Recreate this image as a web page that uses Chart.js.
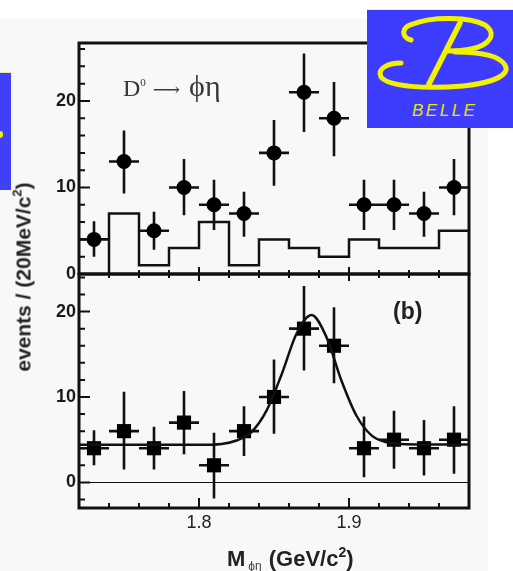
<!DOCTYPE html>
<html>
<head>
<meta charset="utf-8">
<script src="https://cdn.jsdelivr.net/npm/chart.js@4.4.1/dist/chart.umd.min.js"></script>
<style>
  body { margin: 0; width: 513px; height: 571px; background: #fff; position: relative; overflow: hidden;
         font-family: "Liberation Sans", Arial, sans-serif; }
  #slide { position: absolute; left: 0; top: 19px; width: 488px; height: 552px; background: #f8f8f8; }
  canvas { position: absolute; left: 0; top: 0; }
  .txt { position: absolute; white-space: nowrap; color: #222; }
  .txt sup, .txt sub { line-height: 0; }
  #decay { left: 123px; top: 74px; font: 24px/24px "Liberation Serif", "DejaVu Serif", serif; color: #383838; }
  #decay sup { font-size: 11px; vertical-align: 10px; }
  #decay .arrow { font-size: 19px; margin: 0 9px 0 7px; }
  #decay .greek { font-size: 30px; }
  #panelB { left: 393px; top: 300px; font: bold 23px/23px "Liberation Sans", Arial, sans-serif; }
  #xTitle { left: 227px; top: 548px; font: bold 22px/22px "Liberation Sans", Arial, sans-serif; }
  #xTitle sub { font-size: 12px; font-weight: normal; color: #444; vertical-align: -4px; margin: 0 7px 0 3px; }
  #xTitle sup { font-size: 14px; vertical-align: 9px; }
  #yTitle { left: 23px; top: 277px; font: bold 21px/21px "Liberation Sans", Arial, sans-serif;
            transform: translate(-50%, -50%) rotate(-90deg); }
  #yTitle sup { font-size: 13px; vertical-align: 9px; }
  #sideTab { position: absolute; left: 0; top: 72px; width: 11px; height: 117px; background: #4040f8;
             border-top: 1px solid #e8e8a0; }
  #sideTab i { position: absolute; left: 0; top: 58px; width: 3px; height: 7px; background: #f0f000; border-radius: 0 3px 3px 0; }
  #logo { position: absolute; left: 367px; top: 9px; }
</style>
</head>
<body>
<div id="slide"></div>
<div id="sideTab"><i></i></div>
<canvas id="topPanel" width="513" height="571"></canvas>
<canvas id="bottomPanel" width="513" height="571"></canvas>

<div class="txt" id="decay">D<sup>0</sup><span class="arrow">&#x27F6;</span><span class="greek">&#x03D5;&#x03B7;</span></div>
<div class="txt" id="panelB">(b)</div>
<div class="txt" id="xTitle">M<sub>&#x03D5;&#x03B7;</sub>(GeV/c<sup>2</sup>)</div>
<div class="txt" id="yTitle">events / (20MeV/c<sup>2</sup>)</div>

<svg id="logo" width="146" height="119" viewBox="0 0 146 119">
  <rect x="0" y="0" width="146" height="119" fill="#3e3cfc"/>
  <line x1="0" y1="0.5" x2="146" y2="0.5" stroke="#f4f0b0" stroke-width="1"/>
  <g fill="none" stroke="#f2f200" stroke-width="5" stroke-linecap="round">
    <path d="M44 31 C34 28 34 18 46 15 C66 7 104 8 118 16 C130 24 124 36 104 40 C96 42 88 42 80 42"/>
    <path d="M34 54 C20 54 10 60 14 68 C22 78 60 80 96 77 C126 74 144 66 138 56 C132 46 112 43 88 43"/>
    <path d="M93 14 L62 75" stroke-width="5.5"/>
  </g>
  <text x="45" y="107" fill="#e6e600" font-family="Liberation Sans, Arial, sans-serif" font-style="italic"
        font-size="17" letter-spacing="2.5">BELLE</text>
</svg>

<script>
// 20 MeV bins of M(phi eta)
const binCenters = [1.73, 1.75, 1.77, 1.79, 1.81, 1.83, 1.85, 1.87, 1.89, 1.91, 1.93, 1.95, 1.97];
const binHalfWidth = 0.01;

// (a) signal region candidates, with the sideband histogram below them
const signalEvents = [4, 13, 5, 10, 8, 7, 14, 21, 18, 8, 8, 7, 10];
const signalErrUp = [2.1, 3.6, 2.2, 3.3, 2.9, 2.5, 3.8, 4.5, 4.2, 2.9, 2.9, 2.5, 3.3];
const signalErrDown = [2.0, 3.7, 2.2, 3.2, 2.9, 2.7, 3.8, 4.6, 4.4, 2.9, 2.9, 2.7, 3.2];
const sidebandEdges = [1.74, 1.76, 1.78, 1.80, 1.82, 1.84, 1.86, 1.88, 1.90, 1.92, 1.94, 1.96];
const sidebandEvents = [7, 1, 3, 6, 1, 4, 3, 2, 4, 3, 3, 5];

// (b) sideband-subtracted distribution and the fit
const subtractedEvents = [4, 6, 4, 7, 2, 6, 10, 18, 16, 4, 5, 4, 5];
const subtractedErrUp = [2.1, 4.6, 2.5, 3.7, 3.8, 2.9, 4.4, 5.0, 4.5, 3.7, 3.4, 3.3, 3.9];
const subtractedErrDown = [2.0, 4.5, 2.5, 3.7, 3.9, 2.9, 4.3, 4.9, 4.4, 3.4, 3.4, 3.2, 4.0];
const fitMass = [1.72, 1.80, 1.815, 1.825, 1.835, 1.845, 1.855, 1.865, 1.875, 1.885, 1.895, 1.905, 1.915, 1.925, 1.935, 1.95, 1.98];
const fitEvents = [4.4, 4.4, 4.5, 4.9, 5.9, 8.4, 12.6, 17.4, 19.6, 17.0, 11.9, 7.8, 5.5, 4.7, 4.5, 4.45, 4.45];

const massTicks = [1.8, 1.9];
const eventTicks = [0, 10, 20];

const toPoints = (xs, ys) => xs.map((x, i) => ({x: x, y: ys[i]}));

// histogram outline: rise from zero at the first edge, close at the last bin's right edge
const lastBin = sidebandEvents.length - 1;
const sidebandSteps = [{x: sidebandEdges[0], y: 0}]
  .concat(toPoints(sidebandEdges, sidebandEvents))
  .concat([{x: sidebandEdges[lastBin] + 2 * binHalfWidth, y: sidebandEvents[lastBin]}]);

const INK = '#111';

// vertical and horizontal error bars for datasets that carry errUp / errDown
const errorBars = {
  id: 'errorBars',
  beforeDatasetsDraw(chart) {
    const {ctx, scales: {x, y}} = chart;
    ctx.save();
    ctx.strokeStyle = INK;
    ctx.lineWidth = 2.6;
    chart.data.datasets.forEach((ds, i) => {
      if (!ds.errUp) return;
      ds.data.forEach((p, j) => {
        const px = x.getPixelForValue(p.x);
        const py = y.getPixelForValue(p.y);
        ctx.beginPath();
        ctx.moveTo(px, y.getPixelForValue(p.y + ds.errUp[j]));
        ctx.lineTo(px, y.getPixelForValue(p.y - ds.errDown[j]));
        ctx.moveTo(x.getPixelForValue(p.x - binHalfWidth), py);
        ctx.lineTo(x.getPixelForValue(p.x + binHalfWidth), py);
        ctx.stroke();
      });
    });
    ctx.restore();
  }
};

// frame box, inward ticks and the optional zero line
const frame = {
  id: 'frame',
  beforeDatasetsDraw(chart, args, opts) {
    if (!opts.zeroLine) return;
    const {ctx, chartArea: a, scales: {y}} = chart;
    const py = Math.round(y.getPixelForValue(0)) + 0.5;
    ctx.save();
    ctx.strokeStyle = INK;
    ctx.lineWidth = 1;
    ctx.beginPath();
    ctx.moveTo(a.left, py);
    ctx.lineTo(a.right, py);
    ctx.stroke();
    ctx.restore();
  },
  afterDraw(chart, args, opts) {
    const {ctx, chartArea: a, scales: {x, y}} = chart;
    ctx.save();
    ctx.strokeStyle = INK;
    ctx.lineWidth = 2;
    ctx.beginPath();
    for (let v = Math.ceil(y.min / 2) * 2; v <= y.max; v += 2) {
      const py = y.getPixelForValue(v);
      ctx.moveTo(a.left, py);
      ctx.lineTo(a.left + (v % 10 === 0 ? 11 : 6), py);
    }
    const edges = binCenters.slice(1).map(c => c - binHalfWidth);
    edges.forEach(e => {
      const px = x.getPixelForValue(e);
      const major = massTicks.some(t => Math.abs(t - e) < 1e-6);
      if (opts.topTicks) {
        ctx.moveTo(px, a.top);
        ctx.lineTo(px, a.top + (major ? opts.topTicks[1] : opts.topTicks[0]));
      }
      if (opts.bottomTicks) {
        ctx.moveTo(px, a.bottom);
        ctx.lineTo(px, a.bottom - (major ? opts.bottomTicks[1] : opts.bottomTicks[0]));
      }
    });
    ctx.stroke();
    ctx.lineWidth = 3;
    ctx.strokeRect(a.left, a.top, a.width, a.height);
    ctx.restore();
  }
};

function eventAxis(min, max) {
  return {
    type: 'linear',
    min: min,
    max: max,
    afterBuildTicks: scale => { scale.ticks = eventTicks.map(v => ({value: v})); },
    afterFit: scale => { scale.width = 79; },
    grid: {display: false, drawTicks: false},
    border: {display: false},
    ticks: {padding: 3, color: '#1a1a1a', font: {family: 'Liberation Sans', size: 18, weight: 'bold'}}
  };
}

const common = {
  responsive: false,
  animation: false,
  devicePixelRatio: 1,
  events: [],
  plugins: {legend: {display: false}, tooltip: {enabled: false}}
};

new Chart(document.getElementById('topPanel'), {
  data: {
    datasets: [
      {
        type: 'line',
        data: sidebandSteps,
        stepped: 'before',
        borderColor: INK,
        borderWidth: 2.5,
        pointRadius: 0,
        fill: false
      },
      {
        type: 'scatter',
        data: toPoints(binCenters, signalEvents),
        errUp: signalErrUp,
        errDown: signalErrDown,
        pointStyle: 'circle',
        pointRadius: 7.5,
        backgroundColor: '#000',
        borderWidth: 0
      }
    ]
  },
  options: {
    ...common,
    layout: {padding: {left: 0, top: 43, right: 44, bottom: 297}},
    scales: {
      x: {type: 'linear', min: 1.72, max: 1.98, display: false},
      y: eventAxis(0, 26.7)
    },
    plugins: {...common.plugins, frame: {bottomTicks: [4, 7]}}
  },
  plugins: [errorBars, frame]
});

new Chart(document.getElementById('bottomPanel'), {
  data: {
    datasets: [
      {
        type: 'line',
        data: toPoints(fitMass, fitEvents),
        cubicInterpolationMode: 'monotone',
        borderColor: INK,
        borderWidth: 2.5,
        pointRadius: 0,
        fill: false
      },
      {
        type: 'scatter',
        data: toPoints(binCenters, subtractedEvents),
        errUp: subtractedErrUp,
        errDown: subtractedErrDown,
        pointStyle: 'rect',
        pointRadius: 10,
        backgroundColor: '#000',
        borderWidth: 0
      }
    ]
  },
  options: {
    ...common,
    layout: {padding: {left: 0, top: 274, right: 44, bottom: 0}},
    scales: {
      x: {
        type: 'linear',
        min: 1.72,
        max: 1.98,
        afterBuildTicks: scale => { scale.ticks = massTicks.map(v => ({value: v})); },
        afterFit: scale => { scale.height = 63; },
        grid: {display: false, drawTicks: false},
        border: {display: false},
        ticks: {padding: 4, color: '#222', font: {family: 'Liberation Sans', size: 18}, callback: v => v.toFixed(1)}
      },
      y: eventAxis(-3, 24.4)
    },
    plugins: {...common.plugins, frame: {topTicks: [4, 7], bottomTicks: [5, 10], zeroLine: true}}
  },
  plugins: [errorBars, frame]
});
</script>
</body>
</html>
